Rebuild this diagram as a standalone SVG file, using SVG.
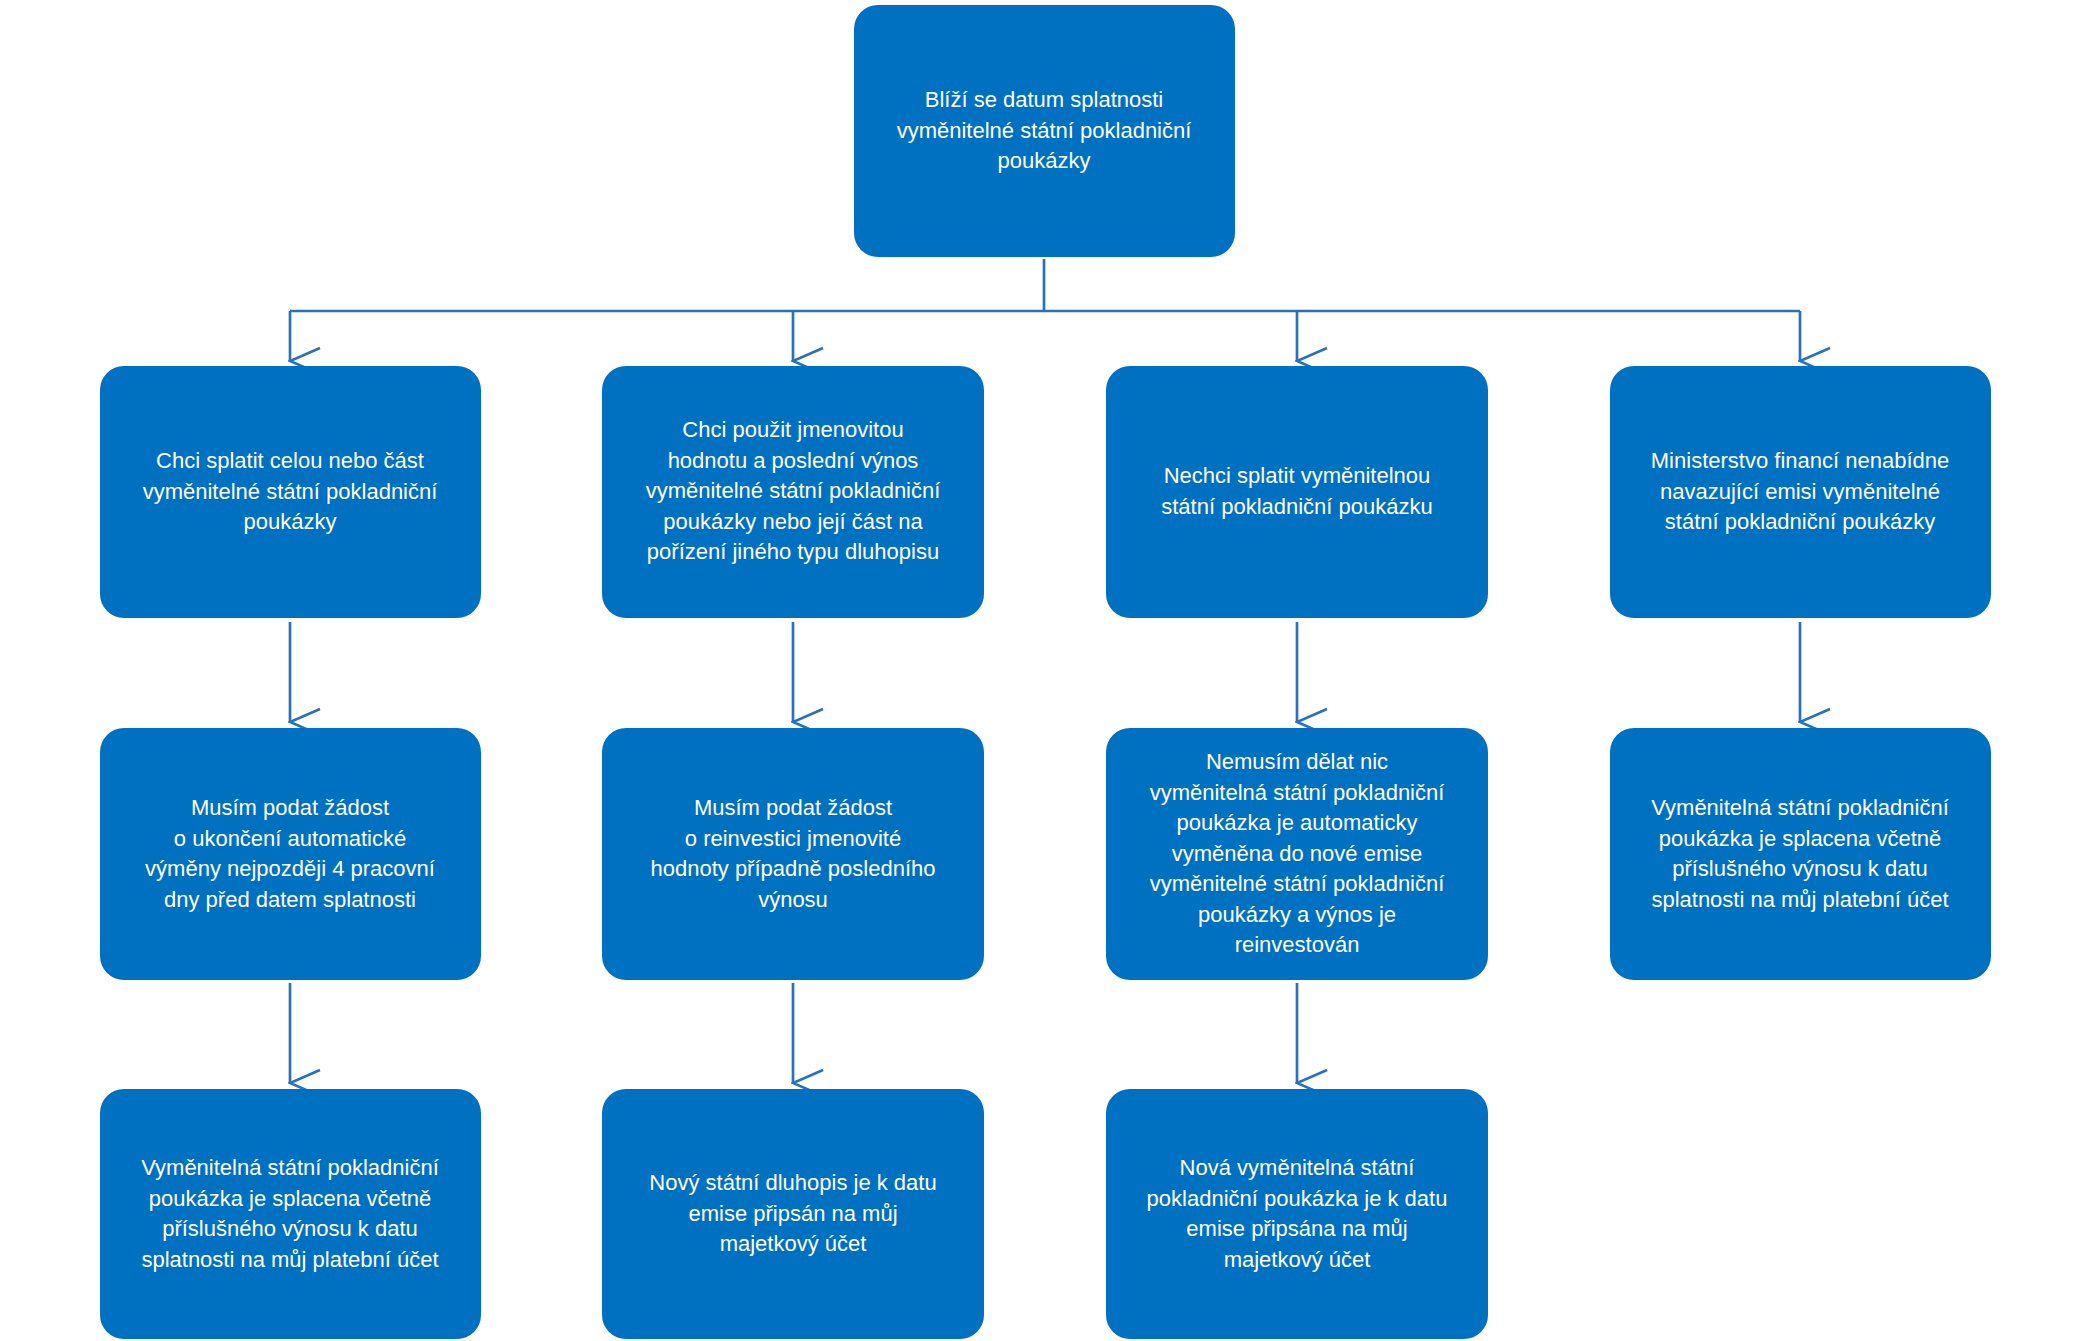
<svg xmlns="http://www.w3.org/2000/svg" width="2079" height="1341" viewBox="0 0 2079 1341">
<defs>
<style>
.b{fill:#0070C0}
.t{fill:#fff;font-family:"Liberation Sans",Arial,sans-serif;font-size:22px;text-anchor:middle}
.c{stroke:#2970BE;stroke-width:2.7;fill:none}
</style>
<marker id="a" markerWidth="30" markerHeight="34" refX="15" refY="32" orient="auto-start-reverse" markerUnits="userSpaceOnUse" viewBox="0 0 30 34">
<path d="M2,2 L15,32 L28,2" fill="none" stroke="#2970BE" stroke-width="2.7"/>
</marker>
</defs>
<rect width="2079" height="1341" fill="#fff"/>
<g id="connectors" class="c">
<path d="M1044,259 V311 M290,311 H1800"/>
<path d="M290,311 V361" marker-end="url(#a)"/>
<path d="M793,311 V361" marker-end="url(#a)"/>
<path d="M1297,311 V361" marker-end="url(#a)"/>
<path d="M1800,311 V361" marker-end="url(#a)"/>
<path d="M290,622 V722" marker-end="url(#a)"/>
<path d="M793,622 V722" marker-end="url(#a)"/>
<path d="M1297,622 V722" marker-end="url(#a)"/>
<path d="M1800,622 V722" marker-end="url(#a)"/>
<path d="M290,983 V1083" marker-end="url(#a)"/>
<path d="M793,983 V1083" marker-end="url(#a)"/>
<path d="M1297,983 V1083" marker-end="url(#a)"/>
</g>
<g id="n0"><rect class="b" x="854" y="5" width="381" height="252" rx="24"/>
<text class="t"><tspan x="1044" y="107">Blíží se datum splatnosti</tspan><tspan x="1044" y="137.5">vyměnitelné státní pokladniční</tspan><tspan x="1044" y="168">poukázky</tspan></text></g>
<g id="n1"><rect class="b" x="100" y="366" width="381" height="252" rx="24"/>
<text class="t"><tspan x="290" y="468">Chci splatit celou nebo část</tspan><tspan x="290" y="498.5">vyměnitelné státní pokladniční</tspan><tspan x="290" y="529">poukázky</tspan></text></g>
<g id="n2"><rect class="b" x="602" y="366" width="382" height="252" rx="24"/>
<text class="t"><tspan x="793" y="437">Chci  použit jmenovitou</tspan><tspan x="793" y="467.5">hodnotu a poslední výnos</tspan><tspan x="793" y="498">vyměnitelné státní pokladniční</tspan><tspan x="793" y="528.5">poukázky nebo její část na</tspan><tspan x="793" y="559">pořízení jiného typu dluhopisu</tspan></text></g>
<g id="n3"><rect class="b" x="1106" y="366" width="382" height="252" rx="24"/>
<text class="t"><tspan x="1297" y="483">Nechci splatit vyměnitelnou</tspan><tspan x="1297" y="513.5">státní pokladniční poukázku</tspan></text></g>
<g id="n4"><rect class="b" x="1610" y="366" width="381" height="252" rx="24"/>
<text class="t"><tspan x="1800" y="468">Ministerstvo financí nenabídne</tspan><tspan x="1800" y="498.5">navazující emisi vyměnitelné</tspan><tspan x="1800" y="529">státní pokladniční poukázky</tspan></text></g>
<g id="n5"><rect class="b" x="100" y="728" width="381" height="252" rx="24"/>
<text class="t"><tspan x="290" y="815">Musím podat žádost</tspan><tspan x="290" y="845.5">o ukončení automatické</tspan><tspan x="290" y="876">výměny nejpozději 4 pracovní</tspan><tspan x="290" y="906.5">dny před datem splatnosti</tspan></text></g>
<g id="n6"><rect class="b" x="602" y="728" width="382" height="252" rx="24"/>
<text class="t"><tspan x="793" y="815">Musím podat žádost</tspan><tspan x="793" y="845.5">o reinvestici jmenovité</tspan><tspan x="793" y="876">hodnoty případně posledního</tspan><tspan x="793" y="906.5">výnosu</tspan></text></g>
<g id="n7"><rect class="b" x="1106" y="728" width="382" height="252" rx="24"/>
<text class="t"><tspan x="1297" y="769">Nemusím dělat nic</tspan><tspan x="1297" y="799.5">vyměnitelná státní pokladniční</tspan><tspan x="1297" y="830">poukázka je automaticky</tspan><tspan x="1297" y="860.5">vyměněna do nové emise</tspan><tspan x="1297" y="891">vyměnitelné státní pokladniční</tspan><tspan x="1297" y="921.5">poukázky a výnos je</tspan><tspan x="1297" y="952">reinvestován</tspan></text></g>
<g id="n8"><rect class="b" x="1610" y="728" width="381" height="252" rx="24"/>
<text class="t"><tspan x="1800" y="815">Vyměnitelná státní pokladniční</tspan><tspan x="1800" y="845.5">poukázka je splacena včetně</tspan><tspan x="1800" y="876">příslušného výnosu k datu</tspan><tspan x="1800" y="906.5">splatnosti na můj platební účet</tspan></text></g>
<g id="n9"><rect class="b" x="100" y="1089" width="381" height="250" rx="24"/>
<text class="t"><tspan x="290" y="1175">Vyměnitelná státní pokladniční</tspan><tspan x="290" y="1205.5">poukázka je splacena včetně</tspan><tspan x="290" y="1236">příslušného výnosu k datu</tspan><tspan x="290" y="1266.5">splatnosti na můj platební účet</tspan></text></g>
<g id="n10"><rect class="b" x="602" y="1089" width="382" height="250" rx="24"/>
<text class="t"><tspan x="793" y="1190">Nový státní dluhopis je k datu</tspan><tspan x="793" y="1220.5">emise připsán na můj</tspan><tspan x="793" y="1251">majetkový účet</tspan></text></g>
<g id="n11"><rect class="b" x="1106" y="1089" width="382" height="250" rx="24"/>
<text class="t"><tspan x="1297" y="1175">Nová vyměnitelná státní</tspan><tspan x="1297" y="1205.5">pokladniční poukázka je k datu</tspan><tspan x="1297" y="1236">emise připsána na můj</tspan><tspan x="1297" y="1266.5">majetkový účet</tspan></text></g>
</svg>
